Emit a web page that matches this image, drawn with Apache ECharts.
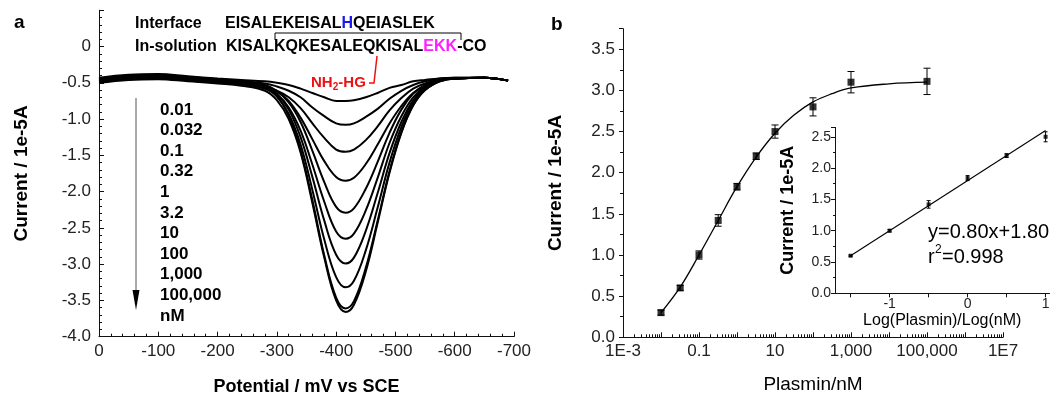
<!DOCTYPE html>
<html>
<head>
<meta charset="utf-8">
<script src="https://cdn.jsdelivr.net/npm/echarts@6/dist/echarts.min.js"></script>
<style>
  html, body { margin: 0; padding: 0; background: #fff; }
  #chart { width: 1051px; height: 398px; }
</style>
</head>
<body>
<div id="chart"></div>
<script>
// ---- panel a: DPV curves ----
const potential = [0, -50, -100, -150, -200, -240, -280, -300, -320, -340, -360, -380, -400, -416, -430, -450, -470, -490, -510, -530, -550, -575, -600, -650, -690];
const curve001 = [-0.43, -0.39, -0.38, -0.41, -0.44, -0.46, -0.48, -0.50, -0.53, -0.58, -0.64, -0.70, -0.75, -0.75, -0.74, -0.70, -0.64, -0.57, -0.53, -0.48, -0.46, -0.44, -0.43, -0.43, -0.47];
const curve0032 = [-0.45, -0.41, -0.40, -0.43, -0.46, -0.48, -0.51, -0.55, -0.61, -0.70, -0.84, -0.96, -1.06, -1.08, -1.06, -0.97, -0.86, -0.72, -0.61, -0.53, -0.48, -0.44, -0.43, -0.43, -0.47];
const curve01 = [-0.48, -0.44, -0.43, -0.46, -0.49, -0.51, -0.56, -0.61, -0.70, -0.85, -1.06, -1.26, -1.42, -1.45, -1.42, -1.29, -1.10, -0.88, -0.71, -0.58, -0.51, -0.45, -0.44, -0.43, -0.47];
const curve032 = [-0.44, -0.40, -0.39, -0.42, -0.45, -0.48, -0.53, -0.61, -0.75, -0.98, -1.28, -1.58, -1.80, -1.85, -1.81, -1.62, -1.35, -1.06, -0.82, -0.64, -0.54, -0.46, -0.44, -0.43, -0.47];
const curve1 = [-0.47, -0.43, -0.42, -0.45, -0.48, -0.50, -0.55, -0.62, -0.77, -1.04, -1.44, -1.87, -2.21, -2.29, -2.23, -1.96, -1.59, -1.19, -0.87, -0.65, -0.53, -0.46, -0.44, -0.43, -0.47];
const curve32 = [-0.49, -0.45, -0.44, -0.47, -0.50, -0.52, -0.58, -0.66, -0.84, -1.16, -1.63, -2.14, -2.55, -2.65, -2.58, -2.26, -1.81, -1.33, -0.96, -0.70, -0.55, -0.46, -0.44, -0.43, -0.47];
const curve10 = [-0.46, -0.42, -0.41, -0.44, -0.47, -0.49, -0.55, -0.65, -0.87, -1.25, -1.80, -2.40, -2.87, -2.99, -2.91, -2.54, -2.02, -1.47, -1.04, -0.74, -0.57, -0.47, -0.44, -0.43, -0.47];
const curve100 = [-0.48, -0.44, -0.43, -0.46, -0.49, -0.52, -0.58, -0.69, -0.93, -1.35, -1.98, -2.66, -3.18, -3.32, -3.23, -2.81, -2.22, -1.60, -1.11, -0.77, -0.59, -0.47, -0.44, -0.43, -0.47];
const curve1000 = [-0.45, -0.41, -0.40, -0.43, -0.46, -0.49, -0.56, -0.68, -0.95, -1.43, -2.12, -2.88, -3.46, -3.61, -3.51, -3.05, -2.40, -1.72, -1.18, -0.81, -0.60, -0.48, -0.44, -0.43, -0.47];
const curve100000 = [-0.50, -0.46, -0.45, -0.48, -0.51, -0.54, -0.61, -0.74, -1.00, -1.46, -2.16, -2.91, -3.50, -3.66, -3.56, -3.10, -2.43, -1.74, -1.19, -0.81, -0.60, -0.48, -0.44, -0.43, -0.47];
const dpvCurves = [curve001, curve0032, curve01, curve032, curve1, curve32, curve10, curve100, curve1000, curve100000];
const concLabels = ['0.01', '0.032', '0.1', '0.32', '1', '3.2', '10', '100', '1,000', '100,000', 'nM'];

// ---- panel b: calibration ----
const plasminConc = [0.01, 0.032, 0.1, 0.32, 1, 3.2, 10, 100, 1000, 100000];
const plasminCurrent = [0.30, 0.60, 1.00, 1.42, 1.83, 2.20, 2.50, 2.80, 3.10, 3.11];
const plasminError = [0.03, 0.03, 0.05, 0.07, 0.04, 0.04, 0.08, 0.11, 0.13, 0.16];
const fitConc = [0.01, 0.032, 0.1, 0.32, 1, 3.2, 10, 31.6, 100, 316, 1000, 10000, 100000];
const fitCurrent = [0.30, 0.61, 1.00, 1.42, 1.83, 2.19, 2.48, 2.70, 2.86, 2.96, 3.03, 3.08, 3.10];
const plasminTickValues = [1e-3, 0.1, 10, 1000, 1e5, 1e7];
const plasminTickLabels = ['1E-3', '0.1', '10', '1,000', '100,000', '1E7'];

// ---- inset: linear range ----
const logConc = [-1.5, -1, -0.5, 0, 0.5, 1];
const logCurrent = [0.60, 1.00, 1.42, 1.84, 2.20, 2.50];
const logError = [0.01, 0.02, 0.06, 0.04, 0.03, 0.08];
const linFitX = [-1.5, 1];
const linFitY = [0.60, 2.60];

const FONT = 'Liberation Sans';

// decade and 2..9 minor ticks for the log axis
const decadeTicks = [];
const logMinorTicks = [];
for (let d = -3; d <= 7; d++) {
  decadeTicks.push(Math.pow(10, d));
  if (d < 7) {
    for (let k = 2; k <= 9; k++) logMinorTicks.push(k * Math.pow(10, d));
  }
}

const errorBar = (cap) => (params, api) => {
  const lo = api.coord([api.value(0), api.value(1)]);
  const hi = api.coord([api.value(0), api.value(2)]);
  const st = { stroke: '#000', lineWidth: 1 };
  return {
    type: 'group',
    children: [
      { type: 'line', shape: { x1: lo[0], y1: lo[1], x2: hi[0], y2: hi[1] }, style: st },
      { type: 'line', shape: { x1: lo[0] - cap, y1: lo[1], x2: lo[0] + cap, y2: lo[1] }, style: st },
      { type: 'line', shape: { x1: hi[0] - cap, y1: hi[1], x2: hi[0] + cap, y2: hi[1] }, style: st }
    ]
  };
};

const axisLine = { show: true, onZero: false, lineStyle: { color: '#111', width: 1 } };
const tickLabel = (size, margin) => ({ color: '#222', fontSize: size, fontFamily: FONT, margin: margin });
const boldName = (size) => ({ color: '#000', fontSize: size, fontWeight: 'bold', fontFamily: FONT });

const txt = (x, y, text, size, weight, color, extra) => ({
  type: 'text', x: x, y: y, silent: true,
  style: Object.assign({
    text: text, fontSize: size, fontWeight: weight || 'normal', fontFamily: FONT,
    fill: color || '#000', verticalAlign: 'middle', align: 'left'
  }, extra || {})
});

const graphics = [
  txt(14, 23, 'a', 19, 'bold'),
  txt(551, 25, 'b', 19, 'bold'),
  txt(135, 23.5, 'Interface', 16, 'bold'),
  txt(135, 47, 'In-solution', 16, 'bold'),
  txt(225, 23.5, 'EISALEKEISAL{h|H}QEIASLEK', 16, 'bold', '#000', {
    rich: { h: { fill: '#1a1aee', color: '#1a1aee', fontSize: 16, fontWeight: 'bold', fontFamily: FONT } }
  }),
  txt(226, 47, 'KISALKQKESALEQKISAL{m|EKK}-CO', 16, 'bold', '#000', {
    rich: { m: { fill: '#ff1eff', color: '#ff1eff', fontSize: 16, fontWeight: 'bold', fontFamily: FONT } }
  }),
  { type: 'polyline', silent: true, shape: { points: [[275, 40], [275, 33], [461, 33], [461, 40]] },
    style: { stroke: '#000', lineWidth: 1, fill: null } },
  { type: 'polyline', silent: true, shape: { points: [[377, 56], [374, 83], [369, 83]] },
    style: { stroke: '#ee1111', lineWidth: 1.5, fill: null } },
  txt(311, 82.5, 'NH', 15, 'bold', '#ee1111'),
  txt(332.7, 87, '2', 10, 'bold', '#ee1111'),
  txt(338.3, 82.5, '-HG', 15, 'bold', '#ee1111'),
  { type: 'line', silent: true, shape: { x1: 136, y1: 98, x2: 136, y2: 292 }, style: { stroke: '#555', lineWidth: 1 } },
  { type: 'polygon', silent: true, shape: { points: [[132.5, 290], [139.5, 290], [136, 310]] }, style: { fill: '#000' } },
  txt(928, 232, 'y=0.80x+1.80', 20),
  txt(928, 257, 'r', 20),
  txt(935, 250, '2', 12),
  txt(942, 257, '=0.998', 20)
];
concLabels.forEach((label, i) => {
  graphics.push(txt(160, 110 + i * 20.6, label, 17, 'bold'));
});

const chart = echarts.init(document.getElementById('chart'));

const optionData = {
  animation: false,
  backgroundColor: '#fff',
  textStyle: { fontFamily: FONT },
  grid: [
    { left: 99, top: 10.25, width: 415, height: 326.45, containLabel: false, outerBoundsMode: 'none' },
    { left: 623, top: 28.7, width: 380, height: 308.6, containLabel: false, outerBoundsMode: 'none' },
    { left: 835, top: 127.4, width: 214.5, height: 165.9, containLabel: false, outerBoundsMode: 'none' }
  ],
  xAxis: [
    {
      gridIndex: 0, type: 'value', position: 'bottom', min: -700, max: 0, interval: 100, inverse: true,
      name: 'Potential / mV vs SCE', nameLocation: 'middle', nameGap: 41, nameTextStyle: boldName(18), nameMoveOverlap: false,
      axisLine: axisLine,
      axisTick: { inside: true, length: 5, lineStyle: { color: '#111' } },
      minorTick: { show: true, splitNumber: 5, length: 3, lineStyle: { color: '#111' } },
      axisLabel: Object.assign(tickLabel(17, 6), { formatter: v => (v === 0 ? '0' : String(v)) }),
      splitLine: { show: false }
    },
    {
      gridIndex: 1, type: 'log', position: 'bottom', logBase: 10, min: 1e-3, max: 1e7,
      name: 'Plasmin/nM', nameLocation: 'middle', nameGap: 38, nameMoveOverlap: false,
      nameTextStyle: { color: '#000', fontSize: 19, fontFamily: FONT },
      axisLine: axisLine,
      axisTick: { inside: true, length: 5, customValues: decadeTicks, lineStyle: { color: '#111' } },
      axisLabel: Object.assign(tickLabel(17, 6), {
        customValues: plasminTickValues,
        formatter: v => {
          const i = plasminTickValues.findIndex(t => Math.abs(Math.log10(t) - Math.log10(v)) < 1e-6);
          return i >= 0 ? plasminTickLabels[i] : '';
        }
      }),
      splitLine: { show: false }
    },
    {
      // log-style minor ticks only
      gridIndex: 1, type: 'log', position: 'bottom', logBase: 10, min: 1e-3, max: 1e7,
      axisLine: { show: false, onZero: false },
      axisTick: { inside: true, length: 3, customValues: logMinorTicks, lineStyle: { color: '#111' } },
      axisLabel: { show: false },
      splitLine: { show: false }
    },
    {
      gridIndex: 2, type: 'value', position: 'bottom', min: -1.7, max: 1.05,
      name: 'Log(Plasmin)/Log(nM)', nameLocation: 'middle', nameGap: 19, nameMoveOverlap: false,
      nameTextStyle: { color: '#000', fontSize: 16, fontFamily: FONT },
      axisLine: axisLine,
      axisTick: { length: 4, customValues: [-1.5, -1, -0.5, 0, 0.5, 1], lineStyle: { color: '#111' } },
      axisLabel: Object.assign(tickLabel(14, 4), { customValues: [-1, 0, 1] }),
      splitLine: { show: false }
    }
  ],
  yAxis: [
    {
      gridIndex: 0, type: 'value', position: 'left', min: -4, max: 0.5, interval: 0.5,
      name: 'Current / 1e-5A', nameLocation: 'middle', nameGap: 68, nameTextStyle: boldName(19), nameMoveOverlap: false,
      axisLine: axisLine,
      axisTick: { inside: true, length: 5, lineStyle: { color: '#111' } },
      minorTick: { show: true, splitNumber: 5, length: 3, lineStyle: { color: '#111' } },
      axisLabel: Object.assign(tickLabel(17, 8), {
        formatter: v => (v > 0 ? '' : v === 0 ? '0' : v.toFixed(1))
      }),
      splitLine: { show: false }
    },
    {
      gridIndex: 1, type: 'value', position: 'left', min: 0, max: 3.75, interval: 0.5,
      name: 'Current / 1e-5A', nameLocation: 'middle', nameGap: 58, nameTextStyle: boldName(19), nameMoveOverlap: false,
      axisLine: axisLine,
      axisTick: { length: 4, lineStyle: { color: '#111' } },
      minorTick: { show: true, splitNumber: 2, length: 3, lineStyle: { color: '#111' } },
      axisLabel: Object.assign(tickLabel(17, 8), {
        formatter: v => (v > 3.6 ? '' : v.toFixed(1))
      }),
      splitLine: { show: false }
    },
    {
      gridIndex: 2, type: 'value', position: 'left', min: 0, max: 2.65, interval: 0.5,
      name: 'Current / 1e-5A', nameLocation: 'middle', nameGap: 38, nameTextStyle: boldName(18), nameMoveOverlap: false,
      axisLine: axisLine,
      axisTick: { length: 4, lineStyle: { color: '#111' } },
      minorTick: { show: true, splitNumber: 2, length: 2, lineStyle: { color: '#111' } },
      axisLabel: Object.assign(tickLabel(14, 4), {
        formatter: v => (v > 2.6 ? '' : v.toFixed(1))
      }),
      splitLine: { show: false }
    }
  ],
  series: [
    ...dpvCurves.map((c) => ({
      type: 'line', xAxisIndex: 0, yAxisIndex: 0, silent: true,
      smooth: 0.4, symbol: 'none',
      lineStyle: { color: '#000', width: 2 },
      data: potential.map((p, j) => [p, c[j]])
    })),
    {
      type: 'line', xAxisIndex: 1, yAxisIndex: 1, silent: true,
      smooth: 0.4, symbol: 'none',
      lineStyle: { color: '#000', width: 1.3 },
      data: fitConc.map((c, i) => [c, fitCurrent[i]])
    },
    {
      type: 'custom', xAxisIndex: 1, yAxisIndex: 1, silent: true,
      renderItem: errorBar(3.5), encode: { x: 0, y: [1, 2] },
      data: plasminConc.map((c, i) => [c, plasminCurrent[i] - plasminError[i], plasminCurrent[i] + plasminError[i]])
    },
    {
      type: 'scatter', xAxisIndex: 1, yAxisIndex: 1, silent: true,
      symbol: 'rect', symbolSize: 7, itemStyle: { color: '#000' },
      data: plasminConc.map((c, i) => [c, plasminCurrent[i]])
    },
    {
      type: 'line', xAxisIndex: 3, yAxisIndex: 2, silent: true,
      symbol: 'none', lineStyle: { color: '#000', width: 1.1 },
      data: linFitX.map((x, i) => [x, linFitY[i]])
    },
    {
      type: 'custom', xAxisIndex: 3, yAxisIndex: 2, silent: true,
      renderItem: errorBar(2), encode: { x: 0, y: [1, 2] },
      data: logConc.map((x, i) => [x, logCurrent[i] - logError[i], logCurrent[i] + logError[i]])
    },
    {
      type: 'scatter', xAxisIndex: 3, yAxisIndex: 2, silent: true,
      symbol: 'rect', symbolSize: 4, itemStyle: { color: '#000' },
      data: logConc.map((x, i) => [x, logCurrent[i]])
    }
  ],
  graphic: graphics
};

chart.setOption(optionData);
</script>
</body>
</html>
